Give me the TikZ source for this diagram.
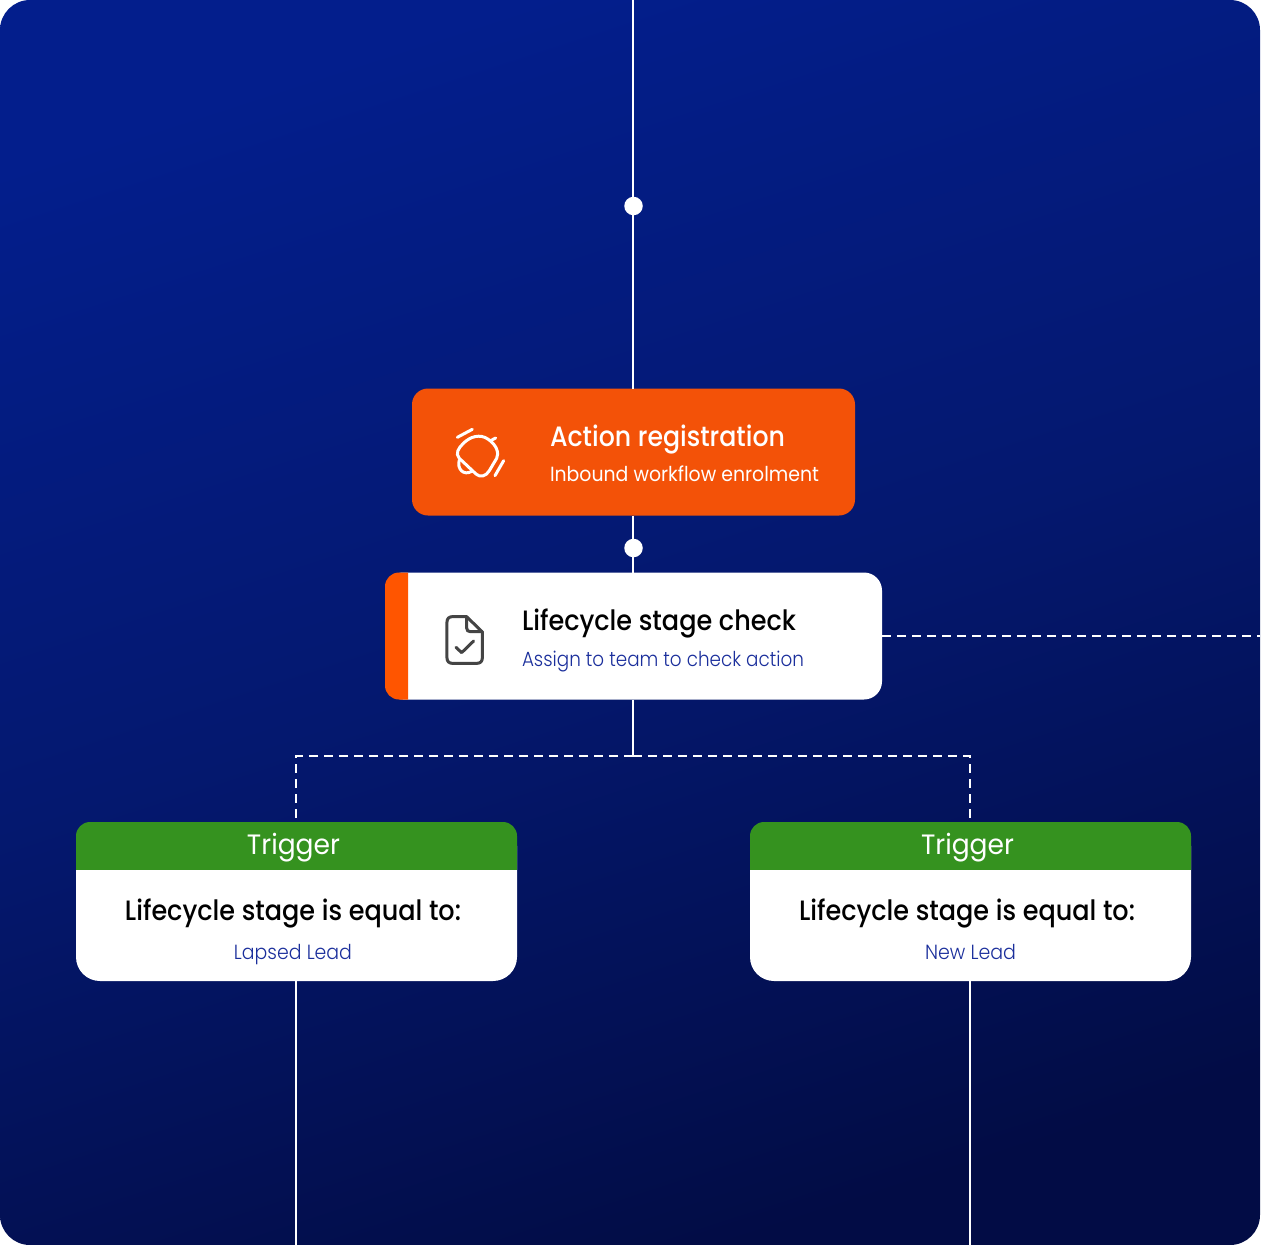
\documentclass[tikz,border=0pt]{standalone}
\usepackage{fontspec}
\usepackage{graphicx}
\setmainfont{Poppins}
\newfontfamily\medfont{Poppins Medium}
\newfontfamily\lightfont{Poppins Light}
\definecolor{bgtop}{HTML}{031E8C}
\definecolor{bgmid}{HTML}{04186F}
\definecolor{bgbot}{HTML}{020C45}
\definecolor{actionorange}{HTML}{F35208}
\definecolor{striporange}{HTML}{FF5500}
\definecolor{triggergreen}{HTML}{35921F}
\definecolor{subblue}{HTML}{1B2F9C}
\definecolor{iconink}{HTML}{444444}
\newcommand{\fitw}[2]{\resizebox{#1pt}{\height}{#2}}
\tikzset{
  conn/.style={draw=white,line width=2pt},
  dashconn/.style={draw=white,line width=2pt,dash pattern=on 9pt off 6pt},
  dotnode/.style={circle,fill=white,draw=none,minimum size=18.5pt,inner sep=0pt},
  textnode/.style={anchor=base west,inner sep=0pt,outer sep=0pt},
  ctext/.style={anchor=base,inner sep=0pt,outer sep=0pt},
  box/.style={rectangle,draw=none,inner sep=0pt,outer sep=0pt,minimum width=#1},
  iconline/.style={line width=3pt,line cap=round,line join=round}
}
\begin{document}
\begin{tikzpicture}[x=1pt,y=-1pt]
\useasboundingbox (0,0) rectangle (1262,1245);
\shade[top color=bgtop,bottom color=bgbot,middle color=bgmid,shading angle=18,rounded corners=30pt]
  (0,0) rectangle (1260,1245);
% anchors of free ends
\coordinate (topend) at (633,0);
\coordinate (rightend) at (1260,636);
\coordinate (leftend) at (296,1245);
\coordinate (rightdown) at (970,1245);
\coordinate (junction) at (633,756);
\coordinate (jleft) at (296,756);
\coordinate (jright) at (970,756);
% boxes
\node[box=443pt,minimum height=127pt,fill=actionorange,rounded corners=16pt,anchor=north west] (action) at (412,388.5) {};
\node[box=497pt,minimum height=127pt,fill=white,rounded corners=18pt,anchor=north west] (check) at (385,572.5) {};
\begin{scope}
\clip (380,568) rectangle (408,704);
\fill[striporange,rounded corners=14pt] (385,572.5) rectangle (440,699.5);
\end{scope}
\node[box=441pt,minimum height=159pt,fill=white,rounded corners=24pt,anchor=north west] (lapsed) at (76,822) {};
\node[box=441pt,minimum height=159pt,fill=white,rounded corners=24pt,anchor=north west] (newlead) at (750,822) {};
\begin{scope}
\clip (70,815) rectangle (523,869.5);
\fill[triggergreen,rounded corners=14pt] (76,822) rectangle (517,900);
\end{scope}
\begin{scope}
\clip (744,815) rectangle (1197,869.5);
\fill[triggergreen,rounded corners=14pt] (750,822) rectangle (1191,900);
\end{scope}
% dots
\node[dotnode] (dota) at (633.5,206) {};
\node[dotnode] (dotb) at (633.5,548) {};
% connectors
\draw[conn] (topend) -- (dota.north -| topend);
\draw[conn] (dota.south -| topend) -- (action.north -| topend);
\draw[conn] (action.south -| topend) -- (dotb.north -| topend);
\draw[conn] (dotb.south -| topend) -- (check.north -| topend);
\draw[conn] (check.south -| junction) -- (junction);
\draw[dashconn] (junction) -- (jleft) -- (lapsed.north -| jleft);
\draw[dashconn] (junction) -- (jright) -- (newlead.north -| jright);
\draw[dashconn] (check.east |- rightend) -- (rightend);
\draw[conn] (lapsed.south -| leftend) -- (leftend);
\draw[conn] (newlead.south -| rightdown) -- (rightdown);
% bell icon
\begin{scope}[shift={(400,380)},x=0.3333pt,y=-0.3333pt,white,iconline]
\draw (178,235) .. controls (165,220) and (175,205) .. (190,190) .. controls (210,170) and (240,160) .. (265,178) .. controls (290,195) and (298,220) .. (290,235) -- (268,272) .. controls (258,290) and (240,293) .. (228,282) -- cycle;
\draw (178,240) .. controls (170,265) and (190,290) .. (217,273);
\draw (272,182) -- (287,174);
\draw (172,172) -- (217,148);
\draw (285,287) -- (311,242);
\end{scope}
% document icon
\begin{scope}[shift={(375,560)},x=0.3333pt,y=-0.3333pt,iconink,iconline]
\draw (275,170) -- (232,170) .. controls (222,170) and (216,176) .. (216,186) -- (216,294) .. controls (216,304) and (222,310) .. (232,310) -- (306,310) .. controls (316,310) and (322,304) .. (322,294) -- (322,216) -- cycle;
\draw (275,170) -- (275,204) .. controls (275,211) and (279,215) .. (286,215) -- (322,215);
\draw (243,262) -- (260,278) -- (296,243);
\end{scope}
% texts
\node[textnode,text=white] (t1) at (550,446) {\fitw{235}{\fontsize{28}{28}\selectfont\medfont Action registration}};
\node[textnode,text=white] (t2) at (550,481) {\fitw{269}{\fontsize{20.5}{21}\selectfont Inbound workflow enrolment}};
\node[textnode,text=black] (t3) at (522,630) {\fitw{274}{\fontsize{28}{28}\selectfont\medfont Lifecycle stage check}};
\node[textnode,text=subblue] (t4) at (522,666) {\fitw{282}{\fontsize{20.5}{21}\selectfont\lightfont Assign to team to check action}};
\node[ctext,text=white] (t5) at (293.5,854) {\fitw{93}{\fontsize{28}{28}\selectfont Trigger}};
\node[ctext,text=white] (t6) at (967.5,854) {\fitw{93}{\fontsize{28}{28}\selectfont Trigger}};
\node[ctext,text=black] (t7) at (293,920) {\fitw{336}{\fontsize{28}{28}\selectfont\medfont Lifecycle stage is equal to:}};
\node[ctext,text=black] (t8) at (967,920) {\fitw{336}{\fontsize{28}{28}\selectfont\medfont Lifecycle stage is equal to:}};
\node[ctext,text=subblue] (t9) at (293,959) {\fitw{118}{\fontsize{20.5}{21}\selectfont\lightfont Lapsed Lead}};
\node[ctext,text=subblue] (t10) at (970.5,959) {\fitw{91}{\fontsize{20.5}{21}\selectfont\lightfont New Lead}};
\end{tikzpicture}
\end{document}
